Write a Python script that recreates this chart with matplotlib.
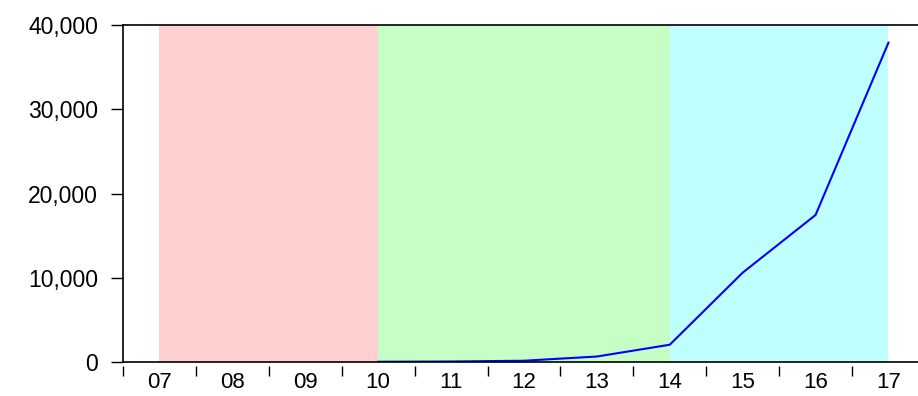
import numpy as np
import matplotlib.pyplot as plt
from matplotlib.ticker import FuncFormatter

# data
years = ['07', '08', '09', '10', '11', '12', '13', '14', '15', '16', '17']
line_years = ['10', '11', '12', '13', '14', '15', '16', '17']
values = [30, 60, 150, 650, 2050, 10600, 17450, 37900]

# shaded phases (start label, end label, colour)
phase_start = ['07', '10', '14']
phase_end = ['10', '14', '17']
phase_color = ['#FFD0D0', '#C6FFC6', '#C0FFFF']

plt.rcParams['font.family'] = ['Liberation Sans', 'DejaVu Sans']

fig = plt.figure(figsize=(9.18, 3.96), dpi=100)
ax = fig.add_axes([123 / 918, 1 - 362 / 396, 1 - 123 / 918, (362 - 25) / 396])

pos = {y: i for i, y in enumerate(years)}
for s, e, c in zip(phase_start, phase_end, phase_color):
    ax.axvspan(pos[s], pos[e], color=c, lw=0, zorder=0)

ax.plot([pos[y] for y in line_years], values, color='#0000FF', lw=1.5, zorder=3)

ax.set_xlim(-0.5, -0.5 + (918 - 123) / 72.9)
ax.set_ylim(0, 40000)

# y axis
ax.set_yticks(np.arange(0, 40001, 10000))
ax.yaxis.set_major_formatter(FuncFormatter(lambda v, p: f'{int(v):,}'))
ax.tick_params(axis='y', direction='out', length=9, width=1, pad=9, labelsize=16.5)

# x axis: ticks at period boundaries, labels at period centres
ax.set_xticks(np.arange(len(years)) - 0.5)
ax.set_xticklabels([])
ax.set_xticks(np.arange(len(years)), minor=True)
ax.set_xticklabels(years, minor=True)
ax.tick_params(axis='x', which='major', direction='out', length=7, width=1)
ax.tick_params(axis='x', which='minor', length=0, pad=4.5, labelsize=16)

ax.spines['right'].set_visible(False)
ax.spines['bottom'].set_position(('outward', 3))
ax.spines['bottom'].set_visible(False)
ax.axhline(0, color='black', lw=1.2, zorder=4, clip_on=False)
ax.spines['left'].set_linewidth(1.2)
ax.spines['top'].set_linewidth(1.2)

fig.savefig('out.png', dpi=100)
